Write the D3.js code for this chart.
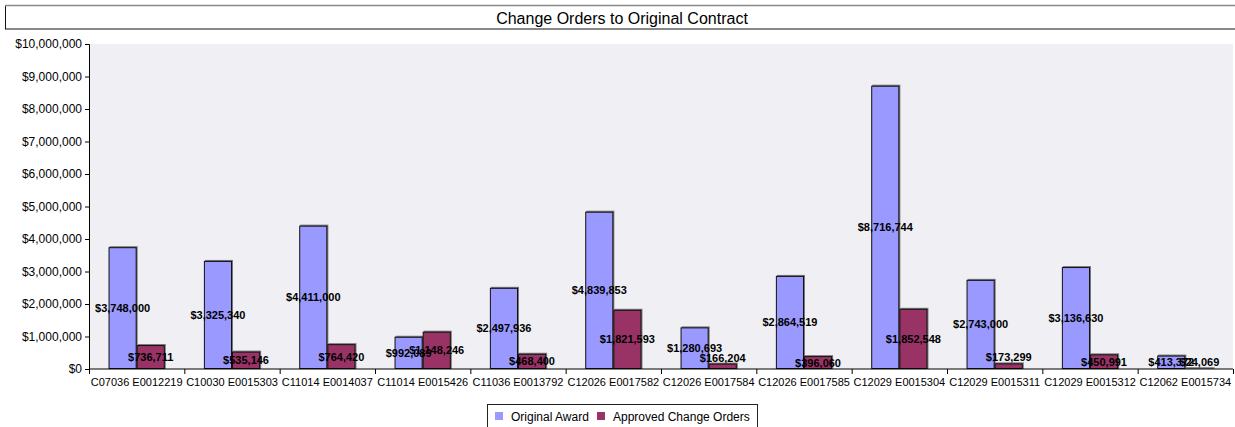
<!DOCTYPE html>
<html>
<head>
<meta charset="utf-8">
<script src="https://cdn.jsdelivr.net/npm/d3@7"></script>
<style>
  body { margin: 0; background: #fff; }
  svg { display: block; font-family: "Liberation Sans", Arial, sans-serif; }
</style>
</head>
<body>
<div id="chart"></div>
<script>
const categories = ["C07036 E0012219", "C10030 E0015303", "C11014 E0014037", "C11014 E0015426",
  "C11036 E0013792", "C12026 E0017582", "C12026 E0017584", "C12026 E0017585",
  "C12029 E0015304", "C12029 E0015311", "C12029 E0015312", "C12062 E0015734"];
const originalAward = [3748000, 3325340, 4411000, 992089, 2497936, 4839853, 1280693, 2864519, 8716744, 2743000, 3136630, 413372];
const approvedChanges = [736711, 535146, 764420, 1148246, 468400, 1821593, 166204, 396060, 1852548, 173299, 450991, 24069];
const seriesNames = ["Original Award", "Approved Change Orders"];
const seriesColors = ["#9999ff", "#993366"];
const yTicks = [0, 1e6, 2e6, 3e6, 4e6, 5e6, 6e6, 7e6, 8e6, 9e6, 1e7];

const width = 1235, height = 427;
const margin = {top: 44, right: 2, bottom: 58, left: 89};

const svg = d3.select("#chart").append("svg")
    .attr("width", width)
    .attr("height", height);

// title box
svg.append("rect")
    .attr("x", 5.5).attr("y", 5.5)
    .attr("width", 1240).attr("height", 23.5)
    .attr("fill", "#fff")
    .attr("stroke", "#111");
svg.append("line")
    .attr("x1", 5).attr("x2", 1235).attr("y1", 5.5).attr("y2", 5.5)
    .attr("stroke", "#888").attr("stroke-width", 1.5);
svg.append("text")
    .attr("x", 622).attr("y", 18)
    .attr("text-anchor", "middle")
    .attr("dominant-baseline", "central")
    .style("font-size", "16px")
    .text("Change Orders to Original Contract");

const x0 = d3.scaleBand()
    .domain(categories)
    .range([margin.left, width - margin.right])
    .paddingInner(0.41)
    .paddingOuter(0.205);
const x1 = d3.scaleBand()
    .domain([0, 1])
    .range([0, x0.bandwidth()]);
const y = d3.scaleLinear()
    .domain([0, 1e7])
    .range([height - margin.bottom, margin.top]);

// plot background
svg.append("rect")
    .attr("x", margin.left).attr("y", margin.top)
    .attr("width", width - margin.right - margin.left)
    .attr("height", y(0) - margin.top)
    .attr("fill", "#efeff4");

const rows = categories.map((c, i) => ({cat: c, vals: [originalAward[i], approvedChanges[i]]}));

const g = svg.append("g");
const groups = g.selectAll("g.grp")
    .data(rows)
    .join("g")
    .attr("class", "grp")
    .attr("transform", d => `translate(${x0(d.cat)},0)`);

// shadow
groups.selectAll("rect.shadow")
    .data(d => d.vals.map((v, k) => ({v, k})))
    .join("rect")
    .attr("class", "shadow")
    .attr("x", d => x1(d.k) + 1)
    .attr("y", d => y(d.v) - 1)
    .attr("width", x1.bandwidth())
    .attr("height", d => y(0) - y(d.v) + 1)
    .attr("fill", "#777");

groups.selectAll("rect.bar")
    .data(d => d.vals.map((v, k) => ({v, k})))
    .join("rect")
    .attr("class", "bar")
    .attr("x", d => x1(d.k) + 0.5)
    .attr("y", d => y(d.v) + 0.5)
    .attr("width", x1.bandwidth() - 1)
    .attr("height", d => Math.max(0, y(0) - y(d.v) - 1))
    .attr("fill", d => seriesColors[d.k])
    .attr("stroke", "#111");

// axes
const yAxis = d3.axisLeft(y)
    .tickValues(yTicks)
    .tickFormat(d => "$" + d3.format(",")(d))
    .tickSize(4);
svg.append("g")
    .attr("transform", `translate(${margin.left},0)`)
    .call(yAxis)
    .call(a => a.selectAll("text").style("font-size", "12px").attr("fill", "#000").attr("x", -7))
    .call(a => a.select(".domain").attr("stroke", "#000"));

const xAxisG = svg.append("g")
    .attr("transform", `translate(0,${y(0)})`);
xAxisG.append("line")
    .attr("x1", margin.left).attr("x2", width - margin.right)
    .attr("stroke", "#000");
const step = x0.step();
xAxisG.selectAll("line.tk")
    .data(d3.range(categories.length + 1))
    .join("line")
    .attr("class", "tk")
    .attr("x1", i => margin.left + i * step + 0.5)
    .attr("x2", i => margin.left + i * step + 0.5)
    .attr("y1", 0).attr("y2", 5)
    .attr("stroke", "#000");
xAxisG.selectAll("text")
    .data(categories)
    .join("text")
    .attr("x", d => x0(d) + x0.bandwidth() / 2)
    .attr("y", 13)
    .attr("text-anchor", "middle")
    .attr("dominant-baseline", "central")
    .style("font-size", "11px")
    .text(d => d);

// data labels
groups.selectAll("text.lbl")
    .data(d => d.vals.map((v, k) => ({v, k})))
    .join("text")
    .attr("class", "lbl")
    .attr("x", d => x1(d.k) + x1.bandwidth() / 2)
    .attr("y", d => {
        const h = y(0) - y(d.v);
        return h < 10 ? y(d.v) - 6 : y(d.v) + h / 2;
    })
    .attr("text-anchor", "middle")
    .attr("dominant-baseline", "central")
    .style("font-size", "11px")
    .style("font-weight", "bold")
    .text(d => "$" + d3.format(",")(d.v));

// legend
const lg = svg.append("g");
lg.append("rect")
    .attr("x", 487.5).attr("y", 404.5)
    .attr("width", 270).attr("height", 30)
    .attr("fill", "#fff").attr("stroke", "#222");
const lx = [495, 597];
seriesNames.forEach((n, k) => {
    lg.append("rect")
        .attr("x", lx[k]).attr("y", 412)
        .attr("width", 8).attr("height", 8)
        .attr("fill", seriesColors[k]);
    lg.append("text")
        .attr("x", lx[k] + 16).attr("y", 417)
        .attr("dominant-baseline", "central")
        .style("font-size", "12px")
        .text(n);
});
</script>
</body>
</html>
